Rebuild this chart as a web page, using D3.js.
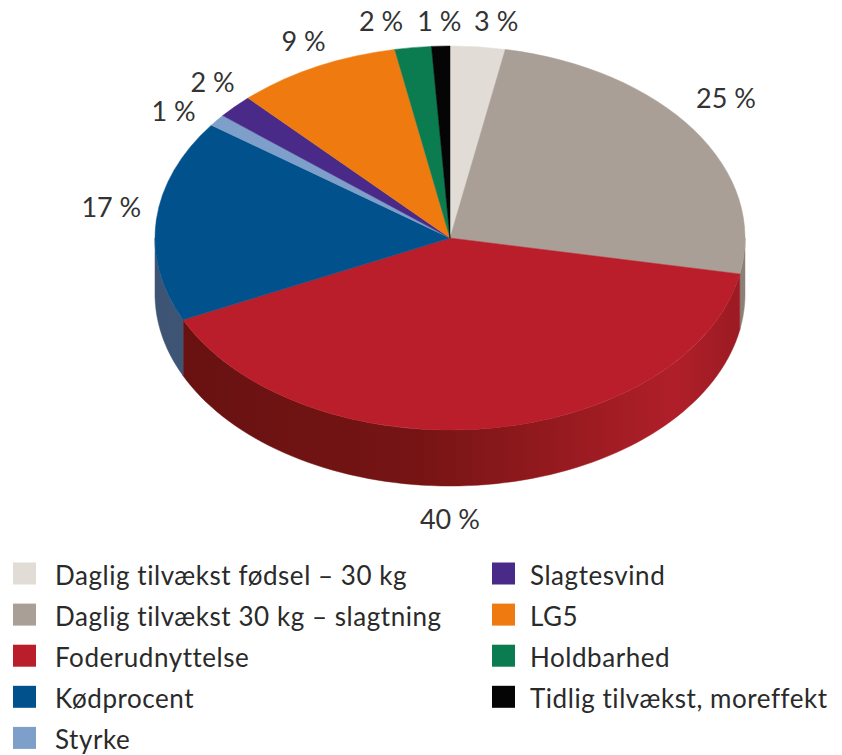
<!DOCTYPE html>
<html><head><meta charset="utf-8">
<script src="https://cdn.jsdelivr.net/npm/d3@7"></script>
<style>
html,body{margin:0;padding:0;background:#fff;}
svg{display:block;font-family:Lato,"Open Sans",sans-serif;}
</style></head>
<body>
<svg id="chart" width="842" height="755"></svg>
<script>
// ---- data ----
const categories = [
  "Daglig tilvækst fødsel – 30 kg",
  "Daglig tilvækst 30 kg – slagtning",
  "Foderudnyttelse",
  "Kødprocent",
  "Styrke",
  "Slagtesvind",
  "LG5",
  "Holdbarhed",
  "Tidlig tilvækst, moreffekt"
];
const values = [3, 25, 40, 17, 1, 2, 9, 2, 1];
const labels = ["3 %", "25 %", "40 %", "17 %", "1 %", "2 %", "9 %", "2 %", "1 %"];
const colors = ["#e2dcd6", "#aa9f96", "#bb1e2b", "#00518c", "#7d9fca", "#4a2a88", "#ef7b10", "#0a7c4f", "#050505"];
// side shading: [left, mid, highlight, right]
const sideColors = [
  ["#b5b0ab", "#b5b0ab", "#c8c2bc", "#b5b0ab"],
  ["#7b726b", "#867c74", "#9c9189", "#8a8078"],
  ["#671111", "#761414", "#b01f29", "#9a1a23"],
  ["#3d5475", "#435b7c", "#4d6586", "#435b7c"],
  ["#5d7897", "#5d7897", "#6d88a7", "#5d7897"],
  ["#351e60", "#351e60", "#412470", "#351e60"],
  ["#a8560b", "#a8560b", "#c2650d", "#a8560b"],
  ["#075a39", "#075a39", "#086a44", "#075a39"],
  ["#000000", "#000000", "#111111", "#000000"]
];
// legend layout: order of entries in two columns
const legendLeft = [0, 1, 2, 3, 4];
const legendRight = [5, 6, 7, 8];

// ---- layout ----
const cx = 450, cy = 238, rx = 295, ry = 192, depth = 56;
const labelNudge = [[14, 4], [-7, -15], [-43, 4], [2, -11], [-6, 9], [12, -4], [9, 1], [-26, 3], [0, 5]];

const svg = d3.select("#chart");
const defs = svg.append("defs");
const pie = d3.pie().sort(null).value(d => d)(values);

const px = a => cx + rx * Math.sin(a);
const py = a => cy - ry * Math.cos(a);

function sideGrad(i) {
  const sc = sideColors[i];
  const id = "g" + i;
  const g = defs.append("linearGradient").attr("id", id)
    .attr("gradientUnits", "userSpaceOnUse")
    .attr("x1", cx - rx).attr("x2", cx + rx).attr("y1", 0).attr("y2", 0);
  [[0, sc[0]], [0.45, sc[1]], [0.88, sc[2]], [1, sc[3]]].forEach(s =>
    g.append("stop").attr("offset", s[0]).attr("stop-color", s[1]));
  return "url(#" + id + ")";
}

// sides (front half only)
const sides = svg.append("g");
pie.forEach((d, i) => {
  const a0 = Math.max(d.startAngle, Math.PI / 2);
  const a1 = Math.min(d.endAngle, 3 * Math.PI / 2);
  if (a1 <= a0) return;
  const n = 80;
  const top = d3.range(n + 1).map(k => a0 + (a1 - a0) * k / n);
  const pts = top.map(a => [px(a), py(a)])
    .concat(top.slice().reverse().map(a => [px(a), py(a) + depth]));
  const f = sideGrad(i);
  sides.append("path")
    .attr("d", d3.line()(pts) + "Z")
    .attr("fill", f).attr("stroke", f).attr("stroke-width", 0.5);
});

// top face: d3.arc squashed vertically
const arc = d3.arc().innerRadius(0).outerRadius(rx);
svg.append("g")
  .attr("transform", `translate(${cx},${cy}) scale(1,${ry / rx})`)
  .selectAll("path").data(pie).join("path")
  .attr("d", arc)
  .attr("fill", (d, i) => colors[i])
  .attr("stroke", (d, i) => colors[i]).attr("stroke-width", 0.6);

// percentage labels
const lf = 1.16;
svg.append("g").selectAll("text").data(pie).join("text")
  .attr("x", (d, i) => cx + rx * lf * Math.sin((d.startAngle + d.endAngle) / 2) + labelNudge[i][0])
  .attr("y", (d, i) => {
    const m = (d.startAngle + d.endAngle) / 2;
    const c = Math.cos(m);
    return cy - ry * lf * c + (c < 0 ? depth : 0) + labelNudge[i][1];
  })
  .attr("text-anchor", "middle").attr("dominant-baseline", "central")
  .attr("font-size", 27).attr("fill", "#333")
  .text((d, i) => labels[i]);

// legend
const leg = svg.append("g");
function legendCol(idx, x0, tx) {
  const g = leg.append("g").selectAll("g").data(idx).join("g")
    .attr("transform", (d, k) => `translate(${x0},${573.5 + k * 41.1})`);
  g.append("rect").attr("x", 0).attr("y", -11).attr("width", 23).attr("height", 22)
    .attr("fill", d => colors[d]);
  g.append("text").attr("x", tx).attr("y", 1).attr("dominant-baseline", "central")
    .attr("font-size", 26).attr("letter-spacing", 0.55).attr("fill", "#2a2a2a").text(d => categories[d]);
}
legendCol(legendLeft, 13, 42);
legendCol(legendRight, 492, 38);
</script>
</body></html>
